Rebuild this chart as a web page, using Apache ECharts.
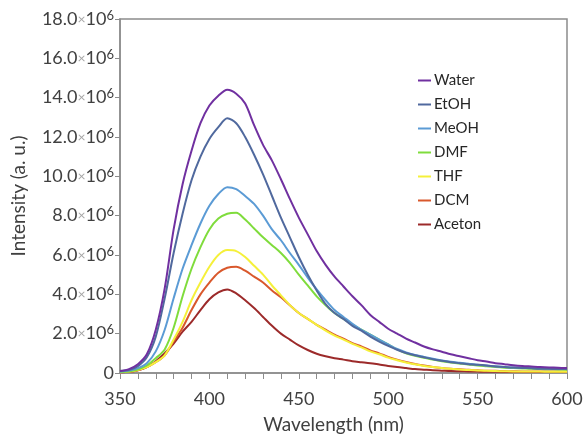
<!DOCTYPE html>
<html>
<head>
<meta charset="utf-8">
<script src="https://cdn.jsdelivr.net/npm/echarts@6/dist/echarts.min.js"></script>
<style>
  html, body { margin: 0; padding: 0; background: #fff; }
  #chart { width: 585px; height: 437px; }
</style>
</head>
<body>
<div id="chart"></div>
<script>
// wavelengths (nm), every 5 nm
var wavelength = [350, 355, 360, 365, 370, 375, 380, 385, 390, 395,
  400, 405, 410, 415, 420, 425, 430, 435, 440, 445,
  450, 455, 460, 465, 470, 475, 480, 485, 490, 495,
  500, 505, 510, 515, 520, 525, 530, 535, 540, 545,
  550, 555, 560, 565, 570, 575, 580, 585, 590, 595, 600]

// intensities in units of 10^6
var water = [0.1, 0.2, 0.45, 0.95, 2.2, 4.3, 7.3, 9.6, 11.3, 12.7,
  13.6, 14.1, 14.4, 14.2, 13.7, 12.6, 11.6, 10.8, 9.85, 8.85,
  7.9, 7.05, 6.2, 5.5, 4.9, 4.4, 3.9, 3.45, 2.95, 2.6,
  2.25, 2.0, 1.75, 1.55, 1.35, 1.2, 1.08, 0.95, 0.85, 0.75,
  0.65, 0.58, 0.5, 0.45, 0.4, 0.36, 0.33, 0.3, 0.28, 0.27, 0.25]
var etoh = [0.1, 0.15, 0.35, 0.8, 1.85, 3.8, 6.1, 8.1, 9.8, 11.0,
  11.9, 12.5, 12.95, 12.7, 12.0, 11.1, 10.1, 9.0, 7.9, 6.9,
  5.9, 5.0, 4.2, 3.5, 3.05, 2.75, 2.4, 2.15, 1.85, 1.6,
  1.38, 1.18, 1.02, 0.9, 0.8, 0.7, 0.62, 0.55, 0.5, 0.45,
  0.42, 0.38, 0.33, 0.3, 0.28, 0.26, 0.24, 0.22, 0.21, 0.2, 0.2]
var meoh = [0.08, 0.12, 0.25, 0.5, 1.1, 2.2, 3.8, 5.3, 6.5, 7.6,
  8.5, 9.1, 9.45, 9.35, 9.0, 8.6, 8.0, 7.3, 6.75, 6.1,
  5.5, 4.85, 4.25, 3.7, 3.2, 2.85, 2.5, 2.2, 1.95, 1.7,
  1.45, 1.22, 1.05, 0.92, 0.82, 0.72, 0.64, 0.57, 0.52, 0.47,
  0.42, 0.38, 0.34, 0.3, 0.28, 0.26, 0.25, 0.23, 0.22, 0.21, 0.2]
var dmf = [0.05, 0.08, 0.18, 0.38, 0.75, 1.2, 2.3, 3.9, 5.3, 6.4,
  7.3, 7.85, 8.1, 8.15, 7.8, 7.35, 6.9, 6.5, 6.1, 5.6,
  5.0, 4.45, 3.9, 3.45, 3.05, 2.75, 2.45, 2.2, 1.95, 1.7,
  1.45, 1.2, 1.0, 0.87, 0.78, 0.68, 0.6, 0.53, 0.48, 0.43,
  0.38, 0.34, 0.3, 0.27, 0.25, 0.23, 0.21, 0.2, 0.19, 0.18, 0.17]
var thf = [0.04, 0.07, 0.15, 0.3, 0.55, 0.9, 1.7, 2.6, 3.7, 4.6,
  5.4, 6.0, 6.25, 6.2, 5.9, 5.45, 5.0, 4.45, 3.95, 3.45,
  3.05, 2.75, 2.45, 2.15, 1.9, 1.7, 1.48, 1.3, 1.1, 0.95,
  0.78, 0.65, 0.53, 0.44, 0.36, 0.3, 0.25, 0.21, 0.18, 0.15,
  0.13, 0.11, 0.1, 0.09, 0.08, 0.08, 0.07, 0.07, 0.06, 0.06, 0.06]
var dcm = [0.04, 0.06, 0.14, 0.3, 0.55, 0.9, 1.6, 2.3, 3.2, 4.0,
  4.6, 5.1, 5.35, 5.4, 5.2, 4.9, 4.6, 4.2, 3.85, 3.45,
  3.05, 2.75, 2.45, 2.2, 1.95, 1.75, 1.52, 1.35, 1.15, 1.0,
  0.82, 0.68, 0.56, 0.46, 0.38, 0.31, 0.26, 0.22, 0.19, 0.16,
  0.14, 0.12, 0.11, 0.1, 0.09, 0.08, 0.08, 0.07, 0.07, 0.07, 0.06]
var aceton = [0.04, 0.06, 0.14, 0.3, 0.6, 1.0, 1.5, 2.1, 2.6, 3.2,
  3.75, 4.1, 4.25, 4.05, 3.7, 3.3, 2.85, 2.4, 2.0, 1.7,
  1.4, 1.17, 0.98, 0.85, 0.75, 0.68, 0.6, 0.55, 0.5, 0.43,
  0.36, 0.3, 0.25, 0.2, 0.17, 0.14, 0.12, 0.1, 0.09, 0.08,
  0.07, 0.06, 0.06, 0.05, 0.05, 0.05, 0.05, 0.05, 0.05, 0.05, 0.05]

var seriesNames = ['Water', 'EtOH', 'MeOH', 'DMF', 'THF', 'DCM', 'Aceton']
var seriesData = [water, etoh, meoh, dmf, thf, dcm, aceton]
var seriesColors = ['#7030a0', '#50699e', '#5b9bd5', '#7fdc3c', '#f5f03a', '#d9582c', '#9c2a2a']

var fontFam = 'Lato, "Open Sans", sans-serif'
var axisColor = '#8c8c8c'

function pairs(ys) {
  return wavelength.map(function (x, i) { return [x, ys[i]] })
}

var chart = echarts.init(document.getElementById('chart'))
chart.setOption({
  animation: false,
  backgroundColor: '#fff',
  grid: {
    left: 120,
    right: 18,
    top: 19,
    bottom: 64,
    outerBoundsMode: 'none',
    show: true,
    borderColor: axisColor,
    borderWidth: 1.5
  },
  legend: {
    orient: 'vertical',
    left: 413,
    top: 68,
    icon: 'rect',
    itemWidth: 13,
    itemHeight: 2,
    itemGap: 9,
    data: seriesNames,
    textStyle: {
      fontFamily: fontFam,
      fontSize: 15,
      color: '#262626',
      lineHeight: 15,
      padding: [0, 0, 0, -2]
    }
  },
  xAxis: {
    type: 'value',
    min: 350,
    max: 600,
    interval: 50,
    name: 'Wavelength (nm)',
    nameLocation: 'middle',
    nameGap: 42,
    nameTextStyle: {
      fontFamily: fontFam,
      fontSize: 19,
      color: '#404040',
      padding: [0, 20, 0, 0]
    },
    axisLine: { lineStyle: { color: axisColor, width: 1.5 } },
    axisTick: { show: true, inside: false, length: 6, lineStyle: { color: axisColor } },
    minorTick: { show: true, splitNumber: 5, length: 6, lineStyle: { color: axisColor } },
    axisLabel: {
      fontFamily: fontFam,
      fontSize: 18,
      color: '#404040',
      margin: 17
    },
    splitLine: { show: false }
  },
  yAxis: {
    type: 'value',
    min: 0,
    max: 18,
    interval: 2,
    name: 'Intensity (a. u.)',
    nameLocation: 'middle',
    nameGap: 92,
    nameTextStyle: {
      fontFamily: fontFam,
      fontSize: 19,
      color: '#404040'
    },
    axisLine: { show: true, lineStyle: { color: axisColor, width: 1.5 } },
    axisTick: { show: true, length: 5, lineStyle: { color: axisColor } },
    axisLabel: {
      margin: 6,
      formatter: function (v) {
        if (v === 0) return '{n|0}'
        return '{n|' + v.toFixed(1) + '}{x|×}{n|10}{s|6}'
      },
      rich: {
        n: { fontFamily: fontFam, fontSize: 18, color: '#404040', lineHeight: 20 },
        x: { fontFamily: fontFam, fontSize: 14, color: '#a6a6a6', lineHeight: 20 },
        s: { fontFamily: fontFam, fontSize: 13, color: '#404040', lineHeight: 12, verticalAlign: 'top' }
      }
    },
    splitLine: { show: false }
  },
  series: seriesNames.map(function (name, i) {
    return {
      name: name,
      type: 'line',
      data: pairs(seriesData[i]),
      showSymbol: false,
      symbol: 'none',
      smooth: 0.3,
      itemStyle: { color: seriesColors[i] },
      lineStyle: { color: seriesColors[i], width: 2 },
      z: 10 - i
    }
  })
})
</script>
</body>
</html>
